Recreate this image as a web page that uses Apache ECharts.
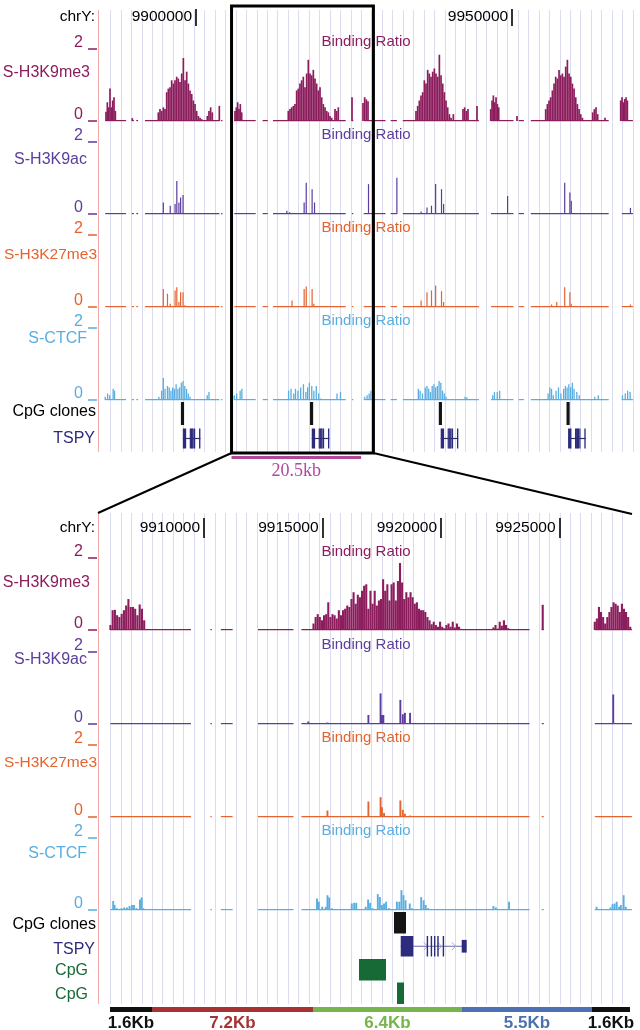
<!DOCTYPE html>
<html><head><meta charset="utf-8">
<script src="https://cdn.jsdelivr.net/npm/echarts@6/dist/echarts.min.js"></script>
<style>html,body{margin:0;padding:0;background:#fff}#c{width:640px;height:1030px}</style>
</head><body><div id="c"></div>
<script>
// ================= DATA =================
const topRange = [9884800, 9970228];
const botRange = [9905610, 9928055];
const topTicks = [9900000, 9950000];
const botTicks = [9910000, 9915000, 9920000, 9925000];

// probe coverage (baseline segments) [start, end]
const topCoverage = [[9885621,9888913],[9889836,9890163],[9890543,9890828],[9891917,9903689],[9903958,9904179],[9906046,9909432],[9910524,9911346],[9912169,9923670],[9924651,9924872],[9926518,9929967],[9930788,9931769],[9932703,9944743],[9946656,9950216],[9951037,9951859],[9952952,9965275],[9967349,9969105]];
const botCoverage = [[9906050,9909448],[9910269,9910327],[9910708,9911206],[9912276,9913770],[9914107,9923732],[9924245,9924333],[9926486,9928050]];

// fixedStep blocks: [start, step, values]
const me3TopBlocks = [
 [9885749, 211, [0.26,0.52,0.38,0.9,0.38,0.57,0.66,0.28]],
 [9889911, 200, [0.08]],
 [9894027, 264, [0.24,0.33,0.28,0.38,0.33,0.8,0.9,0.94,1.13,1.04,1.13,1.23,1.18,1.08,1.32,1.75,1.13,1.37,1.04,0.85,0.75,0.57,0.47,0.28,0.14,0.09,0.05]],
 [9901775, 264, [0.14,0.28,0.38,0.24]],
 [9903676, 200, [0.42]],
 [9906157, 211, [0.28,0.38,0.52,0.33,0.47,0.24]],
 [9914589, 264, [0.28,0.33,0.38,0.42,0.47,0.85,0.9,1.04,1.13,1.23,0.94,1.32,1.7,1.32,1.27,1.42,1.18,1.04,0.85,0.94,0.66,0.47,0.38,0.28,0.24,0.14,0.09]],
 [9921977, 264, [0.33,0.28,0.38]],
 [9924667, 200, [0.66]],
 [9926407, 264, [0.5,0.66,0.6,0.55]],
 [9934791, 264, [0.28,0.42,0.57,0.71,0.8,1.13,1.04,1.42,1.32,1.23,1.37,1.46,1.32,1.23,1.84,1.27,1.04,0.8,0.57,0.38,0.19,0.09]],
 [9940700, 200, [0.19]],
 [9942227, 264, [0.33,0.38,0.28,0.33]],
 [9944441, 200, [0.42]],
 [9946609, 211, [0.33,0.57,0.71,0.52,0.66,0.47,0.38]],
 [9950770, 200, [0.14]],
 [9955309, 264, [0.33,0.47,0.57,0.66,0.85,1.04,1.23,1.18,1.42,1.27,1.32,1.23,1.51,1.7,1.32,1.23,1.04,0.9,0.66,0.47,0.33,0.19,0.09]],
 [9962742, 264, [0.24,0.33,0.38,0.19]],
 [9964691, 200, [0.09]],
 [9967175, 211, [0.57,0.66,0.52,0.61,0.66,0.57]]
];
const me3BotBlocks = [
 [9906049, 95, [0.14,0.55,0.56,0.41,0.36,0.45,0.55,0.68,0.86,0.64,0.64,0.59,0.41,0.71,0.59,0.27]],
 [9914618, 89, [0.18,0.36,0.44,0.36,0.27,0.41,0.44,0.77,0.36,0.44,0.41,0.32,0.55,0.41,0.55,0.59,0.68,0.64,0.86,1.05,0.73,0.98,0.91,1.09,1.23,1.27,0.59,1.09,0.73,1.09,0.68,0.82,0.86,1.41,1.09,1.27,0.82,1.27,1.32,0.82,1.36,1.86,1.32,0.86,1.05,0.91,1.05,0.91,0.73,0.77,0.59,0.55,0.55,0.5,0.36,0.27,0.16,0.23,0.14,0.09,0.23,0.09,0.05,0.14,0.18,0.09,0.23,0.07,0.18,0.09,0.03]],
 [9922207, 89, [0.07,0.14,0.04,0.23,0.12,0.27,0.14,0.05,0.02]],
 [9924288, 89, [0.7]],
 [9926485, 88, [0.23,0.32,0.64,0.5,0.36,0.18,0.36,0.5,0.64,0.77,0.73,0.68,0.5,0.73,0.59,0.5,0.36,0.09]]
];
// sparse [position, value]
const acTop = [[9894817,0.32],[9895912,0.23],[9896679,0.28],[9896952,0.92],[9897281,0.32],[9897554,0.46],[9897938,0.53],[9914360,0.09],[9914798,0.05],[9917097,0.32],[9917425,0.87],[9918356,0.69],[9918739,0.32],[9927278,0.83],[9931767,1.01],[9935599,0.07],[9936529,0.18],[9937241,0.23],[9937898,0.83],[9938828,0.69],[9939157,0.28],[9949284,0.5],[9958316,0.87],[9959137,0.6],[9959356,0.37],[9968716,0.17]];
const k27Top = [[9894817,0.5],[9895474,0.37],[9895912,0.09],[9896679,0.46],[9896952,0.55],[9897281,0.14],[9897554,0.41],[9897938,0.41],[9898211,0.05],[9915181,0.18],[9917097,0.5],[9917425,0.57],[9918356,0.5],[9918629,0.09],[9935599,0.18],[9936529,0.41],[9937241,0.46],[9937898,0.6],[9938828,0.44],[9939157,0.14],[9948298,0.03],[9956236,0.07],[9957057,0.14],[9958316,0.55],[9959137,0.41],[9959356,0.09],[9968716,0.07]];
const ctcfTop = [[9885621,0.09],[9886004,0.18],[9886333,0.13],[9886880,0.31],[9887099,0.26],[9894106,0.09],[9894544,0.26],[9894817,0.61],[9895091,0.31],[9895474,0.39],[9895748,0.35],[9896022,0.26],[9896295,0.35],[9896569,0.31],[9896843,0.44],[9897117,0.31],[9897390,0.35],[9897664,0.48],[9897938,0.53],[9898211,0.39],[9898485,0.31],[9898759,0.18],[9899032,0.09],[9901769,0.13],[9902043,0.22],[9906039,0.13],[9906422,0.18],[9906970,0.26],[9907243,0.31],[9914633,0.26],[9915016,0.31],[9915454,0.18],[9915728,0.31],[9916111,0.26],[9916549,0.35],[9916987,0.44],[9917370,0.22],[9917644,0.35],[9917918,0.48],[9918301,0.39],[9918629,0.26],[9919013,0.39],[9919396,0.18],[9919724,0.04],[9922297,0.18],[9922844,0.22],[9926676,0.09],[9927059,0.13],[9927388,0.18],[9927661,0.26],[9927935,0.35],[9935161,0.31],[9935435,0.26],[9935818,0.18],[9936256,0.35],[9936529,0.39],[9936803,0.31],[9937077,0.22],[9937350,0.39],[9937624,0.44],[9937898,0.35],[9938172,0.39],[9938445,0.53],[9938719,0.48],[9938993,0.26],[9939266,0.18],[9939540,0.09],[9942551,0.09],[9942824,0.07],[9946930,0.13],[9947204,0.22],[9947642,0.22],[9948025,0.26],[9955688,0.18],[9955962,0.35],[9956236,0.31],[9956509,0.13],[9956947,0.26],[9957331,0.35],[9957714,0.18],[9958152,0.31],[9958425,0.39],[9958699,0.35],[9958973,0.44],[9959246,0.35],[9959520,0.48],[9959794,0.31],[9960232,0.22],[9960615,0.13],[9963078,0.09],[9963626,0.13],[9967457,0.13],[9967895,0.18],[9968279,0.26],[9968662,0.22]];
const acBot = [[9914400,0.07],[9915206,0.04],[9916934,0.25],[9917447,0.85],[9917506,0.25],[9917565,0.25],[9918282,0.67],[9918385,0.27],[9918473,0.31],[9918692,0.31],[9927263,0.82]];
const k27Bot = [[9915206,0.18],[9916934,0.43],[9917447,0.55],[9917506,0.27],[9917594,0.11],[9918282,0.46],[9918385,0.2],[9918473,0.09],[9918692,0.04]];
const ctcfBot = [[9906167,0.25],[9906225,0.14],[9906313,0.05],[9906416,0.03],[9906518,0.05],[9906636,0.07],[9906753,0.07],[9906855,0.11],[9906958,0.14],[9907046,0.14],[9907148,0.05],[9907295,0.29],[9907368,0.35],[9907441,0.05],[9914766,0.32],[9914840,0.23],[9914986,0.09],[9915133,0.09],[9915206,0.41],[9915279,0.35],[9915396,0.05],[9915543,0.03],[9916231,0.18],[9916334,0.2],[9916422,0.2],[9916817,0.09],[9916920,0.29],[9917008,0.2],[9917110,0.05],[9917330,0.44],[9917418,0.36],[9917506,0.14],[9917594,0.18],[9917682,0.23],[9917799,0.05],[9918136,0.23],[9918239,0.23],[9918327,0.55],[9918414,0.41],[9918502,0.27],[9918678,0.18],[9918766,0.05],[9919161,0.36],[9919264,0.27],[9919352,0.14],[9919454,0.05],[9922208,0.11],[9922311,0.07],[9922867,0.23],[9926560,0.09],[9927146,0.07],[9927233,0.16],[9927321,0.18],[9927409,0.23],[9927512,0.09],[9927585,0.14],[9927702,0.41],[9927790,0.09]];

// features
const clonesTop = [[9897600,9898100],[9918014,9918520],[9938400,9938900],[9958600,9959100]];
const clonesBot = [[9918014,9918520]];
const cpgRow1 = [[9916537,9917676]];
const cpgRow2 = [[9918140,9918436]];
const tspyTopSpans = [[9897900,9900684],[9918297,9921081],[9938700,9941484],[9958850,9961634]];
const tspyTopExons = [[9897900,9898432],[9898996,9899056],[9899165,9899225],[9899304,9899364],[9899443,9899503],[9899671,9899731],[9900473,9900684],
 [9918297,9918829],[9919393,9919453],[9919562,9919622],[9919701,9919761],[9919840,9919900],[9920068,9920128],[9920870,9921081],
 [9938700,9939232],[9939796,9939856],[9939965,9940025],[9940104,9940164],[9940243,9940303],[9940471,9940531],[9941273,9941484],
 [9958850,9959382],[9959946,9960006],[9960115,9960175],[9960254,9960314],[9960393,9960453],[9960621,9960681],[9961423,9961634]];
const tspyBotSpan = [[9918297,9921081]];
const tspyBotExons = [[9918297,9918829],[9919393,9919453],[9919562,9919622],[9919701,9919761],[9919840,9919900],[9920068,9920128],[9920870,9921081]];
const tspyBotExonHeights = [1,1,1,1,1,1,0.62];
const zoomScale = [[9905610, 9926110]];
const zoomScaleLabel = '20.5kb';
const segBounds = [9906032, 9907804, 9914597, 9920883, 9926367, 9927971];
const segLabels = ['1.6Kb','7.2Kb','6.4Kb','5.5Kb','1.6Kb'];
const segColors = ['#111111','#a83231','#76b54b','#4c70b2','#111111'];

// ================= BUILD =================
const FONT = '"Liberation Sans", Arial, Helvetica, sans-serif';
const C = {me3:'#8c1d5d', ac:'#5b3d9c', k27:'#e4632e', ctcf:'#58aee0', tspy:'#2c2b7d', cpg:'#176a35', clone:'#141414', guide:'#dcdcf0', border:'#f2aaaa', mag:'#b3489b'};
function expand(blocks){ const out=[]; blocks.forEach(b=>b[2].forEach((v,i)=>out.push([b[0]+i*b[1], v]))); return out; }

const trackDefs = [
 {name:'S-H3K9me3', color:C.me3, font:'16px '},
 {name:'S-H3K9ac', color:C.ac, font:'16px '},
 {name:'S-H3K27me3', color:C.k27, font:'15.5px '},
 {name:'S-CTCF', color:C.ctcf, font:'16px '}
];
const panels = [
 {range:topRange, left:100, width:540, guideTop:10, guideBottom:452, rulerTop:9, rulerBottom:26, rulerMargin:9, ticks:topTicks, chrY:17,
  trackTops:[49,142,235,328], trackH:72, barW:[1.7,1.2,1.2,1.3], labelsY:[73,160,255,339], labelRight:[90,87,97,87], coverage:topCoverage,
  tracks:[expand(me3TopBlocks), acTop, k27Top, ctcfTop], brY:[42,135,228,321]},
 {range:botRange, left:100, width:532, guideTop:513, guideBottom:1004, rulerTop:518, rulerBottom:538, rulerMargin:10, ticks:botTicks, chrY:528,
  trackTops:[558,652,745,838], trackH:72, barW:[2.1,1.9,1.9,1.9], labelsY:[583,660,763,854], labelRight:[90,87,97,87], coverage:botCoverage,
  tracks:[expand(me3BotBlocks), acBot, k27Bot, ctcfBot], brY:[552,645,738,831]}
];

const grids=[], xAxes=[], yAxes=[], series=[], graphics=[];
function addGrid(g, x, y){ grids.push(g); const i=grids.length-1; xAxes.push(Object.assign({gridIndex:i}, x)); yAxes.push(Object.assign({gridIndex:i}, y)); return i; }
const hiddenY = (min,max,inv)=>({type:'value', show:false, min:min, max:max, inverse:!!inv});
const hiddenX = (r)=>({type:'value', show:false, min:r[0], max:r[1]});
function txt(text, x, y, color, font, align){
  graphics.push({type:'text', x:x, y:y, z:100, style:{text:text, fill:color, font:font, align:align||'right', verticalAlign:'middle', textAlign:align||'right', textVerticalAlign:'middle'}});
}
function baselineRender(color){
  return (params, api)=>{ const a=api.coord([api.value(0),0]); const b=api.coord([api.value(1),0]);
    return {type:'rect', shape:{x:a[0], y:a[1]-1, width:Math.max(b[0]-a[0],1.2), height:1.2}, style:{fill:color}}; };
}
function rectRender(color, inset){
  return (params, api)=>{ const row=api.value(2); const a=api.coord([api.value(0),row]); const b=api.coord([api.value(1),row+1]);
    return {type:'rect', shape:{x:a[0], y:a[1]+inset, width:Math.max(b[0]-a[0],2), height:b[1]-a[1]-2*inset}, style:{fill:color}}; };
}
function exonRender(color, inset){
  return (params, api)=>{ const row=api.value(2), hf=api.value(3); const a=api.coord([api.value(0),row]); const b=api.coord([api.value(1),row+1]);
    const full=b[1]-a[1]-2*inset, h=full*hf;
    return {type:'rect', shape:{x:a[0], y:a[1]+inset+(full-h)/2, width:Math.max(b[0]-a[0],1.2), height:h}, style:{fill:color}}; };
}
function intronRender(color, chevColor, chev){
  return (params, api)=>{ const row=api.value(2); const a=api.coord([api.value(0),row+0.5]); const b=api.coord([api.value(1),row+0.5]);
    const ch=[{type:'line', shape:{x1:a[0], y1:a[1], x2:b[0], y2:b[1]}, style:{stroke:color, lineWidth:1.2}}];
    if(chev){ for(let x=a[0]+12; x<b[0]-6; x+=14){ ch.push({type:'polyline', shape:{points:[[x-3,a[1]-4],[x+1,a[1]],[x-3,a[1]+4]]}, style:{stroke:chevColor, lineWidth:1, fill:null}}); } }
    return {type:'group', children:ch}; };
}

const featAxes = [];
panels.forEach((P, pi)=>{
  addGrid({left:P.left, top:P.guideTop, width:P.width, height:P.guideBottom-P.guideTop},
    {type:'value', min:0, max:P.width/10.45, interval:1, axisLine:{show:false}, axisTick:{show:false}, axisLabel:{show:false},
     splitLine:{show:true, showMinLine:false, showMaxLine:false, lineStyle:{color:C.guide, width:1}}}, hiddenY(0,1));
  addGrid({left:P.left, top:P.rulerTop, width:P.width, height:P.rulerBottom-P.rulerTop},
    {type:'value', min:P.range[0], max:P.range[1], position:'bottom', axisLine:{show:false}, splitLine:{show:false},
     axisTick:{show:true, inside:true, length:P.rulerBottom-P.rulerTop, customValues:P.ticks, lineStyle:{color:'#000', width:1.6}},
     axisLabel:{show:true, inside:true, customValues:P.ticks, formatter:v=>String(v), align:'right', verticalAlign:'middle', margin:P.rulerMargin,
       padding:[0,4,0,0], color:'#000', fontSize:15.5, fontFamily:FONT}}, hiddenY(0,1));
  txt('chrY:', 95, P.chrY, '#000', '15.5px '+FONT);
  P.tracks.forEach((data, ti)=>{
    const T=trackDefs[ti];
    const g=addGrid({left:P.left, top:P.trackTops[ti], width:P.width, height:P.trackH}, hiddenX(P.range),
      {type:'value', min:0, max:2, interval:2, offset:3, axisLine:{show:false}, splitLine:{show:false},
       axisTick:{show:true, length:9, lineStyle:{color:T.color, width:1.5}},
       axisLabel:{show:true, color:T.color, fontSize:16, fontFamily:FONT, margin:14, verticalAlign:'bottom', lineHeight:12}});
    series.push({type:'custom', xAxisIndex:g, yAxisIndex:g, data:P.coverage, renderItem:baselineRender(T.color), encode:{x:[0,1]}, silent:true, z:2, animation:false});
    series.push({type:'bar', xAxisIndex:g, yAxisIndex:g, data:data, barWidth:P.barW[ti], itemStyle:{color:T.color}, silent:true, z:3, animation:false});
    txt(T.name, P.labelRight[ti], P.labelsY[ti], T.color, T.font+FONT);
    txt('Binding Ratio', 366, P.brY[ti], T.color, '15px '+FONT, 'center');
  });
});

let g = addGrid({left:100, top:401, width:540, height:50}, hiddenX(topRange), hiddenY(0,2,true));
featAxes.push(g);
series.push({type:'custom', xAxisIndex:g, yAxisIndex:g, data:clonesTop.map(d=>[d[0],d[1],0]), renderItem:rectRender(C.clone,1), encode:{x:[0,1], y:2}, silent:true, z:4, animation:false});
series.push({type:'custom', xAxisIndex:g, yAxisIndex:g, data:tspyTopSpans.map(d=>[d[0],d[1],1]), renderItem:intronRender(C.tspy,'#a9a6d0',false), encode:{x:[0,1], y:2}, silent:true, z:4, animation:false});
series.push({type:'custom', xAxisIndex:g, yAxisIndex:g, data:tspyTopExons.map(d=>[d[0],d[1],1,1]), renderItem:exonRender(C.tspy,2.5), encode:{x:[0,1], y:2}, silent:true, z:5, animation:false});
txt('CpG clones', 96, 412, '#000', '16px '+FONT);
txt('TSPY', 95, 439, C.tspy, '16px '+FONT);
g = addGrid({left:100, top:456, width:540, height:3}, hiddenX(topRange), hiddenY(0,1));
series.push({type:'custom', xAxisIndex:g, yAxisIndex:g, data:zoomScale, encode:{x:[0,1]}, silent:true, z:5, animation:false,
  renderItem:(params, api)=>{ const a=api.coord([api.value(0),1]); const b=api.coord([api.value(1),0]);
    return {type:'group', children:[
      {type:'rect', shape:{x:a[0], y:a[1], width:b[0]-a[0], height:b[1]-a[1]}, style:{fill:C.mag}},
      {type:'text', x:(a[0]+b[0])/2, y:b[1]+12, style:{text:zoomScaleLabel, fill:C.mag, font:'18px "Liberation Serif", "Times New Roman", serif', align:'center', verticalAlign:'middle', textAlign:'center', textVerticalAlign:'middle'}}]}; }});

g = addGrid({left:100, top:911, width:532, height:94}, hiddenX(botRange), hiddenY(0,4,true));
featAxes.push(g);
series.push({type:'custom', xAxisIndex:g, yAxisIndex:g, data:clonesBot.map(d=>[d[0],d[1],0]), renderItem:rectRender(C.clone,1), encode:{x:[0,1], y:2}, silent:true, z:4, animation:false});
series.push({type:'custom', xAxisIndex:g, yAxisIndex:g, data:tspyBotSpan.map(d=>[d[0],d[1],1]), renderItem:intronRender('#6e6aa8','#aaa7d2',true), encode:{x:[0,1], y:2}, silent:true, z:4, animation:false});
series.push({type:'custom', xAxisIndex:g, yAxisIndex:g, data:tspyBotExons.map((d,i)=>[d[0],d[1],1,tspyBotExonHeights[i]]), renderItem:exonRender(C.tspy,1.5), encode:{x:[0,1], y:2}, silent:true, z:5, animation:false});
series.push({type:'custom', xAxisIndex:g, yAxisIndex:g, data:cpgRow1.map(d=>[d[0],d[1],2]), renderItem:rectRender(C.cpg,1), encode:{x:[0,1], y:2}, silent:true, z:4, animation:false});
series.push({type:'custom', xAxisIndex:g, yAxisIndex:g, data:cpgRow2.map(d=>[d[0],d[1],3]), renderItem:rectRender(C.cpg,1), encode:{x:[0,1], y:2}, silent:true, z:4, animation:false});
txt('CpG clones', 96, 925, '#000', '16px '+FONT);
txt('TSPY', 95, 950, C.tspy, '16px '+FONT);
txt('CpG', 88, 971, C.cpg, '16px '+FONT);
txt('CpG', 88, 995, C.cpg, '16px '+FONT);
g = addGrid({left:100, top:1007, width:532, height:5}, hiddenX(botRange), hiddenY(0,1));
series.push({type:'custom', xAxisIndex:g, yAxisIndex:g, data:segLabels.map((l,i)=>[segBounds[i], segBounds[i+1], i]), encode:{x:[0,1]}, silent:true, z:5, animation:false,
  renderItem:(params, api)=>{ const i=api.value(2); const a=api.coord([api.value(0),1]); const b=api.coord([api.value(1),0]);
    return {type:'group', children:[
      {type:'rect', shape:{x:a[0], y:a[1], width:b[0]-a[0], height:b[1]-a[1]}, style:{fill:segColors[i]}},
      {type:'text', x:(a[0]+b[0])/2, y:b[1]+11, style:{text:segLabels[i], fill:segColors[i], font:'bold 17px '+FONT, align:'center', verticalAlign:'middle', textAlign:'center', textVerticalAlign:'middle'}}]}; }});

graphics.push({type:'line', shape:{x1:98.5, y1:10, x2:98.5, y2:452}, style:{stroke:C.border, lineWidth:1}, z:50});
graphics.push({type:'line', shape:{x1:98.5, y1:513, x2:98.5, y2:1004}, style:{stroke:C.border, lineWidth:1}, z:50});

const chart = echarts.init(document.getElementById('c'), null, {renderer:'canvas'});
chart.setOption({animation:false, grid:grids, xAxis:xAxes, yAxis:yAxes, series:series, graphic:graphics});

const xl = chart.convertToPixel({xAxisIndex:featAxes[0]}, botRange[0]);
const xr = chart.convertToPixel({xAxisIndex:featAxes[0]}, botRange[1]);
const xbl = chart.convertToPixel({xAxisIndex:featAxes[1]}, botRange[0]);
const xbr = chart.convertToPixel({xAxisIndex:featAxes[1]}, botRange[1]);
graphics.push({type:'rect', shape:{x:xl, y:6, width:xr-xl, height:447}, style:{stroke:'#000', lineWidth:3, fill:null}, z:60});
graphics.push({type:'line', shape:{x1:xl, y1:453, x2:xbl-2, y2:513}, style:{stroke:'#000', lineWidth:2}, z:60});
graphics.push({type:'line', shape:{x1:xr, y1:453, x2:xbr, y2:514}, style:{stroke:'#000', lineWidth:2}, z:60});
chart.setOption({graphic:graphics});
</script></body></html>
